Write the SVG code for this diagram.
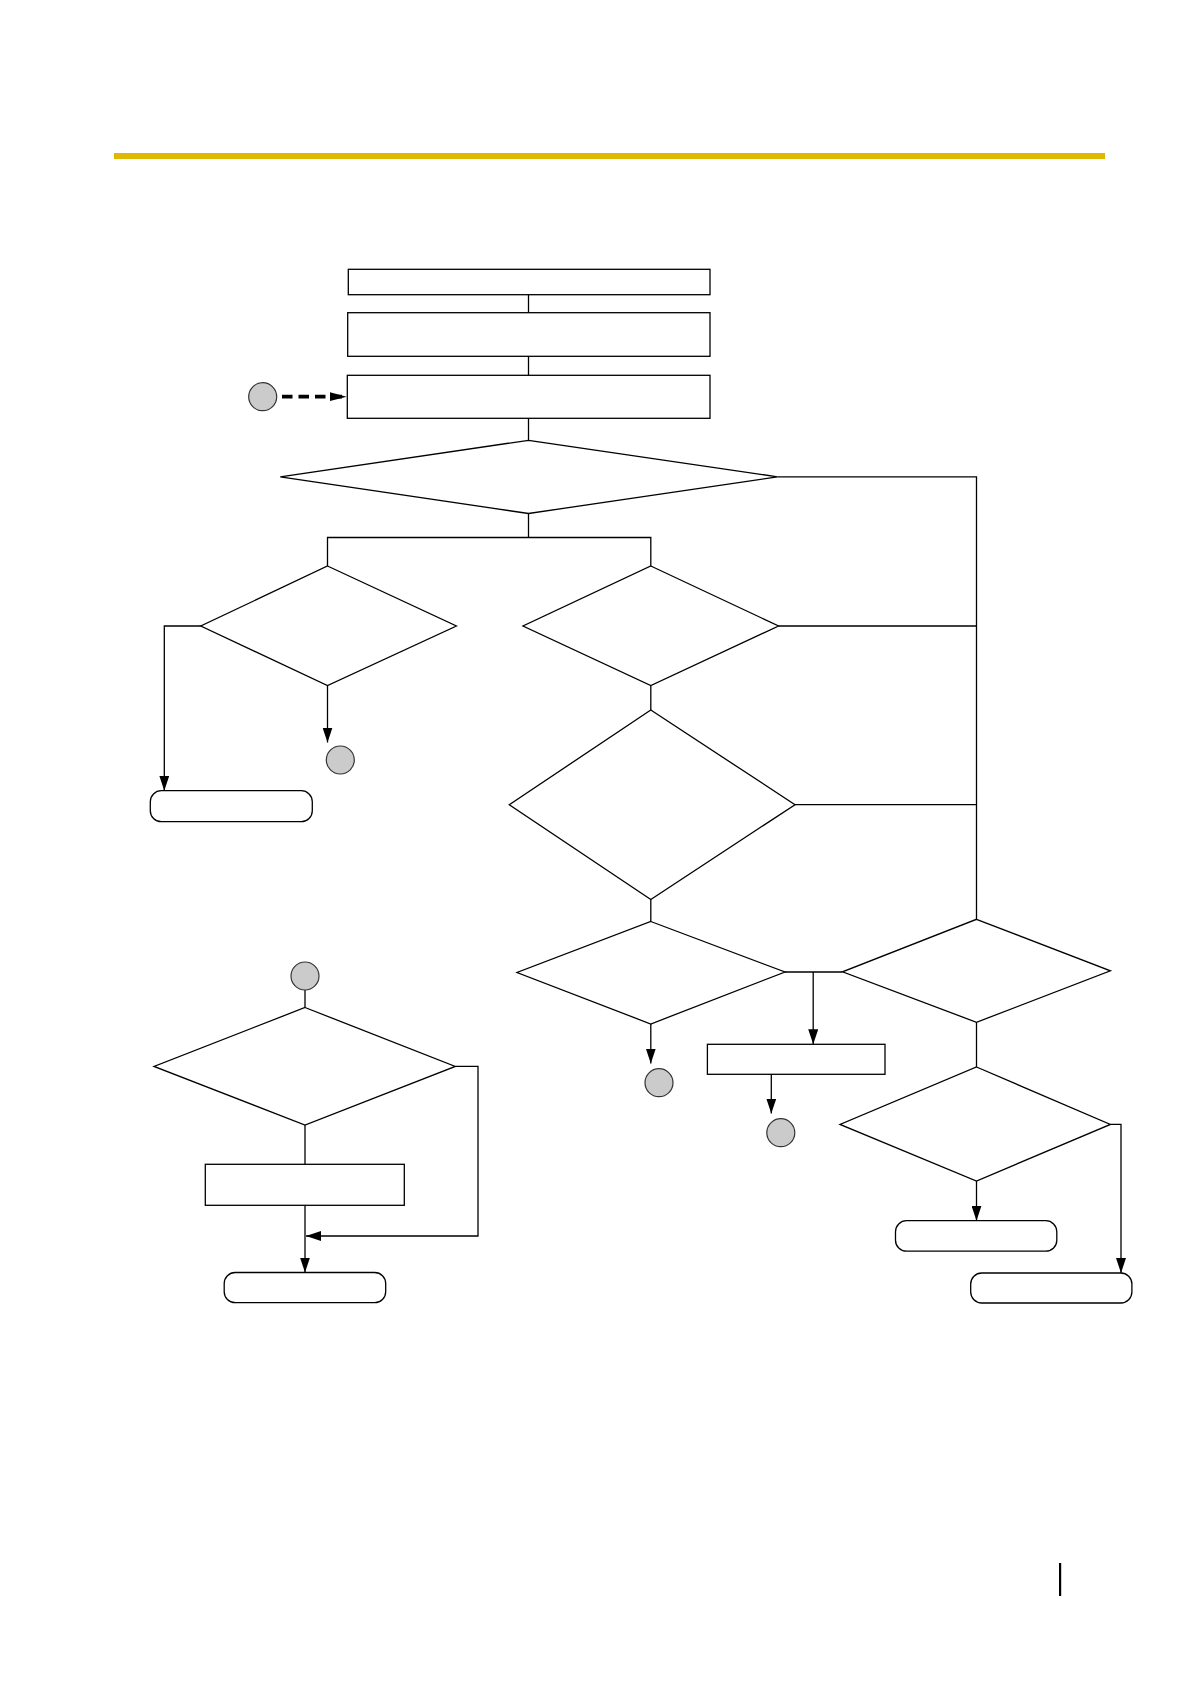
<svg xmlns="http://www.w3.org/2000/svg" width="1191" height="1684" viewBox="0 0 1191 1684">
<style>
.n{fill:#fff;stroke:#000;stroke-width:1.3}
.c{fill:#cbcbcb;stroke:#333;stroke-width:1.2}
.l{fill:none;stroke:#000;stroke-width:1.3}
.a{fill:none;stroke:#000;stroke-width:1.3;marker-end:url(#ah)}
.d{fill:none;stroke:#000;stroke-width:3.8;stroke-dasharray:10.5 6;marker-end:url(#ahd)}
</style>
<defs>
<marker id="ah" markerUnits="userSpaceOnUse" markerWidth="16" markerHeight="10" refX="15" refY="5" orient="auto"><path d="M0,0 L15,5 L0,10 Z" fill="#000"/></marker>
<marker id="ahd" markerUnits="userSpaceOnUse" markerWidth="18" markerHeight="10" refX="17" refY="5" orient="auto"><path d="M0,0.5 L17,5 L0,9.5 Z" fill="#000"/></marker>
</defs>
<rect x="114" y="153" width="991" height="6" fill="#dfb900"/>
<rect x="1059" y="1563" width="2.2" height="33" fill="#000"/>
<g id="connectors">
<line class="l" x1="528.5" y1="294.7" x2="528.5" y2="312.7"/>
<line class="l" x1="528.5" y1="356.3" x2="528.5" y2="375.3"/>
<line class="l" x1="528.5" y1="418.3" x2="528.5" y2="440.3"/>
<polyline class="l" points="528.5,513.5 528.5,537.5"/>
<polyline class="l" points="327.5,566 327.5,537.5 650.8,537.5 650.8,566"/>
<polyline class="l" points="777.5,476.8 976.5,476.8 976.5,919.3"/>
<polyline class="a" points="200.8,626 164.3,626 164.3,790.7"/>
<polyline class="a" points="327.5,685.5 327.5,742.5"/>
<line class="l" x1="778.6" y1="626" x2="976.5" y2="626"/>
<line class="l" x1="650.8" y1="685.5" x2="650.8" y2="710"/>
<line class="l" x1="795" y1="804.7" x2="976.5" y2="804.7"/>
<line class="l" x1="650.8" y1="899.5" x2="650.8" y2="921.5"/>
<polyline class="a" points="650.8,1024 650.8,1063.5"/>
<line class="l" x1="785" y1="972" x2="842.5" y2="972"/>
<polyline class="a" points="813.2,972 813.2,1044.3"/>
<polyline class="a" points="771.3,1074.3 771.3,1113.5"/>
<line class="l" x1="976.5" y1="1022.3" x2="976.5" y2="1067"/>
<polyline class="a" points="976.5,1181 976.5,1220.7"/>
<polyline class="a" points="1110.4,1124.4 1121,1124.4 1121,1273"/>
<line class="l" x1="305" y1="990" x2="305" y2="1007.5"/>
<line class="l" x1="305" y1="1125" x2="305" y2="1164.3"/>
<polyline class="a" points="305,1205.3 305,1272.5"/>
<polyline class="a" points="455.3,1066.4 478,1066.4 478,1236 306,1236"/>
<line class="d" x1="282" y1="396.7" x2="346.7" y2="396.7"/>
</g>
<g id="box-top"><rect class="n" x="348.3" y="269.3" width="361.7" height="25.4"/></g>
<g id="box-2"><rect class="n" x="347.7" y="312.7" width="362.3" height="43.6"/></g>
<g id="box-3"><rect class="n" x="347.3" y="375.3" width="362.7" height="43"/></g>
<g id="conn-in"><circle class="c" cx="262.7" cy="396.7" r="14"/></g>
<g id="dec-main"><polygon class="n" points="528.5,440.3 777.5,476.8 528.5,513.5 280.3,476.8"/></g>
<g id="dec-left"><polygon class="n" points="327.5,566 456.4,626 327.5,685.5 200.8,626"/></g>
<g id="end-left"><rect class="n" x="150.3" y="790.7" width="162" height="31" rx="11"/></g>
<g id="conn-left"><circle class="c" cx="340.3" cy="760" r="14"/></g>
<g id="dec-mid"><polygon class="n" points="650.8,566 778.6,626 650.8,685.5 523,626"/></g>
<g id="dec-mid-big"><polygon class="n" points="650.8,710 795,804.7 650.8,899.5 509.3,804.7"/></g>
<g id="dec-mid-low"><polygon class="n" points="650.8,921.5 785,972 650.8,1024 517,972.5"/></g>
<g id="conn-mid-low"><circle class="c" cx="659" cy="1082.7" r="14"/></g>
<g id="box-mid"><rect class="n" x="707.4" y="1044.3" width="177.6" height="30"/></g>
<g id="conn-box-mid"><circle class="c" cx="780.8" cy="1132.7" r="14"/></g>
<g id="dec-right"><polygon class="n" points="976.5,919.3 1110.4,970.8 976.5,1022.3 842.5,971.8"/></g>
<g id="dec-right-low"><polygon class="n" points="976.5,1067 1110.4,1124.4 976.5,1181 840,1124.4"/></g>
<g id="end-right-1"><rect class="n" x="895.5" y="1220.7" width="161.3" height="30.5" rx="11"/></g>
<g id="end-right-2"><rect class="n" x="970.7" y="1273" width="161.2" height="30" rx="11"/></g>
<g id="conn-bl"><circle class="c" cx="305" cy="976" r="14"/></g>
<g id="dec-bl"><polygon class="n" points="305,1007.5 455.3,1066.4 305,1125 154,1066.4"/></g>
<g id="box-bl"><rect class="n" x="205.3" y="1164.3" width="199" height="41"/></g>
<g id="end-bl"><rect class="n" x="224.2" y="1272.5" width="161.5" height="30.2" rx="11"/></g>
</svg>
